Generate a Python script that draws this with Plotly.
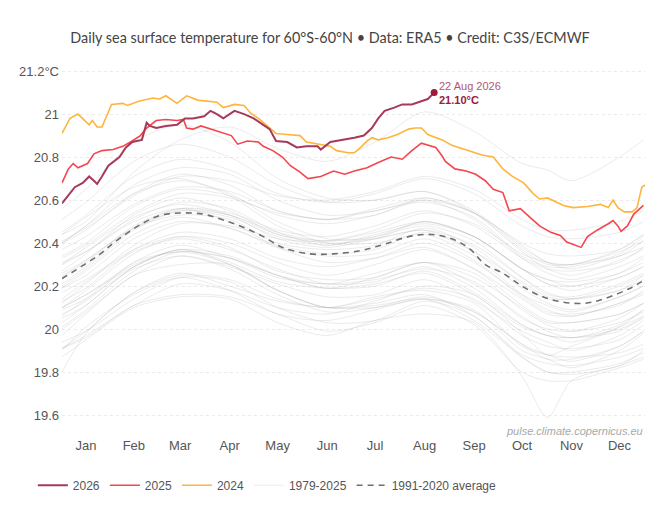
import plotly.graph_objects as go

# x axis is day of year
month_labels = ["Jan", "Feb", "Mar", "Apr", "May", "Jun", "Jul", "Aug", "Sep", "Oct", "Nov", "Dec"]
month_mid_days = [16, 46, 75, 106, 136, 167, 197, 228, 259, 289, 320, 350]
y_ticks = [19.6, 19.8, 20.0, 20.2, 20.4, 20.6, 20.8, 21.0, 21.2]
y_tick_labels = ["19.6", "19.8", "20", "20.2", "20.4", "20.6", "20.8", "21", "21.2°C"]

# 2026 (up to 22 Aug)
days_2026 = [1, 5, 9, 14, 18, 21, 23, 26, 30, 37, 41, 45, 51, 54, 56, 60, 66, 73, 78, 83, 90, 94, 98,
             102, 109, 115, 121, 127, 131, 135, 142, 148, 154, 161, 163, 169, 178, 184, 190, 195, 199,
             203, 209, 214, 220, 226, 230, 234]
sst_2026 = [20.585, 20.62, 20.66, 20.68, 20.71, 20.69, 20.675, 20.71, 20.76, 20.80, 20.845, 20.87, 20.88,
            20.96, 20.945, 20.935, 20.945, 20.95, 20.98, 20.98, 20.99, 21.015, 21.00, 20.98, 21.015, 21.00,
            20.98, 20.95, 20.93, 20.875, 20.87, 20.845, 20.85, 20.85, 20.835, 20.87, 20.88, 20.89, 20.90,
            20.935, 20.98, 21.015, 21.03, 21.045, 21.045, 21.06, 21.07, 21.10]

# 2025
days_2025 = [1, 5, 8, 11, 17, 21, 26, 33, 39, 45, 50, 54, 60, 66, 73, 77, 79, 83, 88, 94, 100, 107, 111,
             117, 124, 127, 133, 139, 144, 150, 155, 163, 171, 178, 184, 192, 199, 207, 214, 220, 226, 235,
             239, 241, 247, 254, 260, 266, 271, 277, 281, 288, 294, 300, 307, 313, 317, 322, 326, 330, 336,
             343, 346, 349, 351, 355, 359, 365]
sst_2025 = [20.68, 20.745, 20.77, 20.75, 20.77, 20.815, 20.83, 20.835, 20.85, 20.875, 20.90, 20.935, 20.97,
            20.975, 20.97, 20.975, 20.935, 20.93, 20.945, 20.93, 20.915, 20.90, 20.86, 20.875, 20.87, 20.85,
            20.83, 20.80, 20.76, 20.73, 20.70, 20.71, 20.735, 20.72, 20.735, 20.75, 20.775, 20.80, 20.79,
            20.83, 20.865, 20.845, 20.805, 20.78, 20.745, 20.735, 20.72, 20.69, 20.65, 20.635, 20.55, 20.56,
            20.52, 20.48, 20.45, 20.435, 20.405, 20.39, 20.38, 20.43, 20.46, 20.49, 20.505, 20.48, 20.455,
            20.48, 20.535, 20.575]

# 2024
days_2024 = [1, 6, 11, 14, 18, 20, 23, 26, 29, 32, 39, 42, 49, 58, 62, 66, 73, 79, 86, 92, 98, 102, 109,
             115, 119, 124, 129, 135, 142, 150, 154, 163, 169, 173, 180, 184, 188, 192, 195, 199, 205, 211,
             218, 222, 226, 230, 239, 245, 256, 264, 271, 277, 283, 290, 296, 300, 305, 311, 315, 321, 330,
             338, 343, 346, 349, 353, 358, 361, 364, 366]
sst_2024 = [20.91, 20.98, 21.00, 20.98, 20.95, 20.97, 20.94, 20.94, 20.99, 21.045, 21.05, 21.04, 21.06,
            21.075, 21.07, 21.085, 21.05, 21.085, 21.065, 21.06, 21.055, 21.03, 21.045, 21.04, 21.005, 20.98,
            20.95, 20.91, 20.905, 20.90, 20.87, 20.86, 20.85, 20.83, 20.82, 20.82, 20.845, 20.875, 20.89,
            20.88, 20.89, 20.905, 20.93, 20.935, 20.935, 20.905, 20.88, 20.855, 20.83, 20.81, 20.80, 20.745,
            20.71, 20.68, 20.63, 20.605, 20.61, 20.59, 20.575, 20.565, 20.57, 20.58, 20.565, 20.60, 20.565,
            20.545, 20.545, 20.565, 20.66, 20.67]

# 1991-2020 average
avg_days = [1, 15, 25, 34, 51, 63, 76, 89, 101, 114, 127, 139, 156, 171, 188, 203, 218, 232, 245, 256,
            266, 277, 290, 302, 315, 328, 338, 349, 358, 365]
avg_sst = [20.235, 20.30, 20.35, 20.405, 20.49, 20.53, 20.54, 20.535, 20.51, 20.475, 20.43, 20.38, 20.35,
           20.35, 20.365, 20.395, 20.43, 20.44, 20.42, 20.375, 20.30, 20.26, 20.195, 20.15, 20.125, 20.12,
           20.135, 20.165, 20.195, 20.225]

# 1979-2023, read roughly at mid-month
grey_days = [1, 16, 46, 75, 106, 136, 167, 197, 228, 259, 289, 305, 320, 350, 365]
sst_1979 = [19.80, 19.98, 20.17, 20.26, 20.20, 20.13, 20.10, 20.10, 20.14, 20.09, 19.90, 19.86, 19.82, 19.90, 19.98]
sst_1980 = [19.97, 20.07, 20.25, 20.30, 20.30, 20.18, 20.10, 20.15, 20.18, 20.12, 19.92, 19.88, 19.87, 19.89, 19.93]
sst_1981 = [19.94, 19.99, 20.14, 20.24, 20.22, 20.10, 20.03, 20.04, 20.13, 20.06, 19.88, 19.84, 19.83, 19.87, 19.91]
sst_1982 = [19.91, 19.97, 20.11, 20.21, 20.18, 20.10, 20.07, 20.13, 20.20, 20.16, 19.98, 19.88, 19.92, 20.01, 20.09]
sst_1983 = [20.10, 20.16, 20.29, 20.37, 20.30, 20.18, 20.10, 20.11, 20.14, 20.04, 19.87, 19.80, 19.79, 19.83, 19.90]
sst_1984 = [19.91, 19.96, 20.11, 20.16, 20.15, 20.07, 19.99, 20.03, 20.11, 20.02, 19.80, 19.76, 19.76, 19.82, 19.86]
sst_1985 = [19.87, 19.95, 20.10, 20.15, 20.14, 20.03, 19.97, 20.04, 20.07, 20.03, 19.78, 19.59, 19.76, 19.83, 19.87]
sst_1986 = [19.90, 20.01, 20.16, 20.24, 20.18, 20.07, 20.04, 20.09, 20.14, 20.08, 19.93, 19.86, 19.86, 19.92, 19.99]
sst_1987 = [20.01, 20.09, 20.27, 20.36, 20.33, 20.25, 20.21, 20.26, 20.31, 20.26, 20.09, 20.02, 19.99, 20.03, 20.08]
sst_1988 = [20.10, 20.16, 20.30, 20.36, 20.30, 20.18, 20.10, 20.12, 20.16, 20.06, 19.87, 19.80, 19.80, 19.84, 19.89]
sst_1989 = [19.91, 19.99, 20.17, 20.25, 20.23, 20.14, 20.10, 20.14, 20.19, 20.14, 19.97, 19.92, 19.91, 19.95, 20.02]
sst_1990 = [20.03, 20.11, 20.29, 20.37, 20.31, 20.22, 20.19, 20.20, 20.27, 20.17, 20.02, 19.97, 19.96, 20.00, 20.05]
sst_1991 = [20.06, 20.14, 20.31, 20.36, 20.33, 20.25, 20.19, 20.21, 20.26, 20.16, 20.01, 19.97, 19.94, 20.01, 20.06]
sst_1992 = [20.09, 20.14, 20.28, 20.34, 20.28, 20.16, 20.08, 20.10, 20.15, 20.08, 19.93, 19.88, 19.85, 19.92, 19.99]
sst_1993 = [20.00, 20.08, 20.25, 20.34, 20.29, 20.21, 20.15, 20.16, 20.23, 20.13, 19.99, 19.94, 19.90, 19.97, 20.04]
sst_1994 = [20.05, 20.11, 20.29, 20.37, 20.34, 20.25, 20.19, 20.24, 20.31, 20.24, 20.10, 20.03, 20.03, 20.07, 20.12]
sst_1995 = [20.14, 20.22, 20.36, 20.42, 20.37, 20.28, 20.21, 20.22, 20.29, 20.19, 20.02, 19.97, 19.96, 19.99, 20.06]
sst_1996 = [20.07, 20.13, 20.31, 20.39, 20.33, 20.24, 20.21, 20.23, 20.28, 20.22, 20.05, 20.00, 19.99, 20.05, 20.12]
sst_1997 = [20.12, 20.21, 20.39, 20.49, 20.48, 20.42, 20.41, 20.46, 20.54, 20.49, 20.35, 20.31, 20.30, 20.37, 20.44]
sst_1998 = [20.44, 20.52, 20.66, 20.70, 20.62, 20.48, 20.40, 20.40, 20.44, 20.34, 20.16, 20.09, 20.06, 20.12, 20.16]
sst_1999 = [20.17, 20.23, 20.37, 20.43, 20.38, 20.27, 20.23, 20.24, 20.31, 20.21, 20.06, 19.99, 19.96, 20.02, 20.09]
sst_2000 = [20.10, 20.18, 20.35, 20.43, 20.40, 20.31, 20.25, 20.30, 20.37, 20.28, 20.14, 20.07, 20.06, 20.12, 20.17]
sst_2001 = [20.19, 20.27, 20.44, 20.52, 20.47, 20.39, 20.35, 20.37, 20.45, 20.36, 20.22, 20.15, 20.14, 20.20, 20.25]
sst_2002 = [20.25, 20.31, 20.48, 20.56, 20.53, 20.44, 20.40, 20.42, 20.50, 20.43, 20.28, 20.21, 20.20, 20.24, 20.29]
sst_2003 = [20.30, 20.38, 20.52, 20.58, 20.53, 20.42, 20.38, 20.42, 20.46, 20.39, 20.24, 20.16, 20.15, 20.21, 20.26]
sst_2004 = [20.26, 20.32, 20.47, 20.53, 20.51, 20.40, 20.37, 20.39, 20.47, 20.38, 20.21, 20.14, 20.14, 20.18, 20.23]
sst_2005 = [20.27, 20.35, 20.53, 20.61, 20.55, 20.44, 20.41, 20.43, 20.48, 20.41, 20.24, 20.17, 20.14, 20.18, 20.25]
sst_2006 = [20.24, 20.32, 20.47, 20.55, 20.52, 20.43, 20.39, 20.43, 20.50, 20.43, 20.28, 20.23, 20.20, 20.26, 20.31]
sst_2007 = [20.31, 20.36, 20.50, 20.56, 20.50, 20.38, 20.31, 20.33, 20.38, 20.28, 20.11, 20.04, 20.03, 20.07, 20.12]
sst_2008 = [20.13, 20.19, 20.37, 20.45, 20.42, 20.33, 20.29, 20.33, 20.40, 20.31, 20.16, 20.11, 20.08, 20.15, 20.20]
sst_2009 = [20.21, 20.29, 20.47, 20.56, 20.54, 20.46, 20.43, 20.48, 20.55, 20.48, 20.33, 20.28, 20.27, 20.31, 20.38]
sst_2010 = [20.40, 20.48, 20.63, 20.69, 20.63, 20.50, 20.42, 20.42, 20.46, 20.36, 20.19, 20.12, 20.09, 20.15, 20.20]
sst_2011 = [20.19, 20.25, 20.42, 20.50, 20.47, 20.38, 20.34, 20.35, 20.42, 20.32, 20.15, 20.08, 20.07, 20.11, 20.18]
sst_2012 = [20.20, 20.28, 20.46, 20.55, 20.53, 20.45, 20.41, 20.45, 20.50, 20.43, 20.28, 20.21, 20.18, 20.24, 20.29]
sst_2013 = [20.30, 20.36, 20.51, 20.59, 20.56, 20.45, 20.39, 20.44, 20.49, 20.43, 20.28, 20.23, 20.22, 20.26, 20.33]
sst_2014 = [20.33, 20.39, 20.54, 20.63, 20.61, 20.54, 20.51, 20.53, 20.61, 20.54, 20.37, 20.30, 20.30, 20.34, 20.41]
sst_2015 = [20.41, 20.47, 20.62, 20.71, 20.69, 20.62, 20.60, 20.64, 20.71, 20.65, 20.51, 20.46, 20.46, 20.50, 20.55]
sst_2016 = [20.56, 20.65, 20.87, 20.95, 20.87, 20.70, 20.61, 20.60, 20.64, 20.54, 20.36, 20.28, 20.25, 20.32, 20.37]
sst_2017 = [20.40, 20.48, 20.67, 20.75, 20.72, 20.60, 20.53, 20.55, 20.60, 20.51, 20.33, 20.26, 20.23, 20.29, 20.34]
sst_2018 = [20.34, 20.40, 20.57, 20.65, 20.62, 20.53, 20.49, 20.53, 20.60, 20.54, 20.40, 20.35, 20.34, 20.37, 20.44]
sst_2019 = [20.45, 20.53, 20.71, 20.79, 20.74, 20.63, 20.59, 20.63, 20.70, 20.63, 20.48, 20.43, 20.42, 20.45, 20.50]
sst_2020 = [20.51, 20.59, 20.78, 20.86, 20.80, 20.67, 20.59, 20.60, 20.64, 20.55, 20.38, 20.31, 20.28, 20.34, 20.38]
sst_2021 = [20.37, 20.43, 20.58, 20.66, 20.64, 20.55, 20.51, 20.56, 20.61, 20.54, 20.39, 20.31, 20.30, 20.36, 20.41]
sst_2022 = [20.40, 20.46, 20.63, 20.72, 20.67, 20.55, 20.51, 20.55, 20.59, 20.52, 20.34, 20.29, 20.29, 20.35, 20.43]
sst_2023 = [20.44, 20.50, 20.73, 20.88, 20.94, 20.84, 20.78, 20.87, 21.01, 20.92, 20.77, 20.74, 20.69, 20.80, 20.88]

grey_series = [sst_1979, sst_1980, sst_1981, sst_1982, sst_1983, sst_1984, sst_1985, sst_1986, sst_1987,
               sst_1988, sst_1989, sst_1990, sst_1991, sst_1992, sst_1993, sst_1994, sst_1995, sst_1996,
               sst_1997, sst_1998, sst_1999, sst_2000, sst_2001, sst_2002, sst_2003, sst_2004, sst_2005,
               sst_2006, sst_2007, sst_2008, sst_2009, sst_2010, sst_2011, sst_2012, sst_2013, sst_2014,
               sst_2015, sst_2016, sst_2017, sst_2018, sst_2019, sst_2020, sst_2021, sst_2022, sst_2023]

fig = go.Figure()

# Background years
for i, vals in enumerate(grey_series):
    fig.add_trace(go.Scatter(
        x=grey_days, y=vals, mode='lines', name='1979-2025',
        legendgroup='past', showlegend=(i == 0), legendrank=4, hoverinfo='skip',
        line=dict(color='rgba(170,170,170,0.24)', width=1, shape='spline', smoothing=0.8)
    ))

# Climatology
fig.add_trace(go.Scatter(
    x=avg_days, y=avg_sst, mode='lines', name='1991-2020 average', legendrank=5,
    line=dict(color='#6f6f6f', width=1.6, dash='6px,5px', shape='spline')
))

# Recent years
fig.add_trace(go.Scatter(
    x=days_2024, y=sst_2024, mode='lines', name='2024', legendrank=3,
    line=dict(color='#ffb43c', width=1.6)
))
fig.add_trace(go.Scatter(
    x=days_2025, y=sst_2025, mode='lines', name='2025', legendrank=2,
    line=dict(color='#f4464f', width=1.6)
))
fig.add_trace(go.Scatter(
    x=days_2026, y=sst_2026, mode='lines', name='2026', legendrank=1,
    line=dict(color='#a63a5b', width=2)
))
fig.add_trace(go.Scatter(
    x=days_2026[-1:], y=sst_2026[-1:], mode='markers', showlegend=False,
    marker=dict(color='#9b1b3c', size=7)
))

# Latest value label
fig.add_annotation(
    x=days_2026[-1], y=sst_2026[-1], xref='x', yref='y',
    text="<span style='color:#b5566f'>22 Aug 2026</span><br><b>%.2f°C</b>" % sst_2026[-1],
    showarrow=False, xanchor='left', yanchor='middle', align='left', xshift=3,
    font=dict(family='Liberation Sans, Arial', size=11, color='#9b1b3c')
)

# Source
fig.add_annotation(
    x=1, y=0, xref='paper', yref='paper', text='<i>pulse.climate.copernicus.eu</i>',
    showarrow=False, xanchor='right', yanchor='middle', yshift=-3,
    font=dict(family='Liberation Sans, Arial', size=11, color='#a8a8a8')
)

# page body adds 8px, so the figure is a little smaller than the window
fig.update_layout(
    width=652, height=507,
    title=dict(
        text='Daily sea surface temperature for 60°S-60°N • Data: ERA5 • Credit: C3S/ECMWF',
        x=(330 - 8) / 652, xref='container', xanchor='center', y=1 - 30 / 507, yanchor='middle',
        font=dict(family='Lato', size=14.4, color='#444444')
    ),
    font=dict(family='Liberation Sans, Arial', size=13, color='#555555'),
    plot_bgcolor='white', paper_bgcolor='white',
    margin=dict(l=54, r=15, t=62, b=87),
    showlegend=True,
    legend=dict(
        orientation='h', x=-0.05, xanchor='left', y=-0.16, yanchor='middle',
        font=dict(size=12, color='#555555'), traceorder='normal'
    ),
    xaxis=dict(
        range=[1, 366], tickvals=month_mid_days, ticktext=month_labels,
        showgrid=False, zeroline=False, showline=False, ticks='', ticklabelstandoff=8,
        fixedrange=True
    ),
    yaxis=dict(
        range=[19.54, 21.205], tickvals=y_ticks, ticktext=y_tick_labels,
        showgrid=True, gridcolor='#ebebeb', griddash='dot', gridwidth=1,
        zeroline=False, showline=False, ticks='', ticklabelstandoff=2
    ),
)

fig.write_html("out.html")
